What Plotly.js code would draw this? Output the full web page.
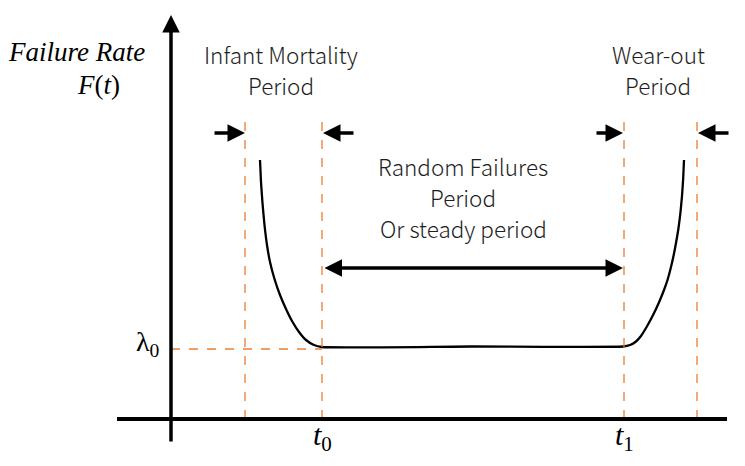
<!DOCTYPE html>
<html>
<head>
<meta charset="utf-8">
<script src="https://cdn.plot.ly/plotly-3.0.1.min.js"></script>
<style>html,body{margin:0;padding:0;background:#fff;}#chart{width:745px;height:466px;}</style>
</head>
<body>
<div id="chart"></div>
<script>
// Bathtub curve (time vs failure rate, arbitrary units)
var curveX = [89, 90, 91.5, 93.5, 96, 99, 103.5, 109, 115, 121, 128, 135, 143, 151,
              300,
              452, 459, 465, 470, 475, 480, 485, 489, 493, 496.5, 499.5, 502.5, 505, 507.5, 509.5, 511, 512.2, 513];
var curveY = [259, 237, 216, 194, 174, 157, 140, 124, 110, 98, 87, 79, 74, 72,
              72.5,
              72.5, 74, 77.5, 83, 91, 100, 110, 119, 129, 139, 150, 163, 176, 191, 207, 223, 241, 259];

var t0 = 151, t1 = 453;             // boundaries of steady period
var earlyStart = 74, wearEnd = 526; // outer boundaries
var lambda0 = 70;                   // steady failure rate
var boundaryTop = 297;
var arrowLevel = 286;               // level of boundary arrows
var spanLevel = 151;                // level of double arrow

var infantLines = ["Infant Mortality", "Period"];
var wearLines = ["Wear-out", "Period"];
var randomLines = ["Random Failures", "Period", "Or steady period"];
var yTitleLines = ["Failure Rate", "F", "t"];
var tickLabels = ["t", "t"];
var tickSubs = ["0", "1"];

var orange = "#ED7D31";
var sans = "Noto Sans CJK SC, Noto Sans, sans-serif";
var serif = "Liberation Serif, DejaVu Serif, serif";

var traces = [{
  x: curveX, y: curveY, mode: "lines", type: "scatter",
  line: {color: "#000", width: 2.3, shape: "spline", smoothing: 0.5},
  hoverinfo: "skip"
}];

var shapes = [];
[earlyStart, t0, t1, wearEnd].forEach(function (bx) {
  shapes.push({type: "line", xref: "x", yref: "y", x0: bx, x1: bx, y0: 0, y1: boundaryTop,
    line: {color: orange, width: 1.3, dash: "dash"}});
});
shapes.push({type: "line", xref: "x", yref: "y", x0: 0, x1: t0, y0: lambda0, y1: lambda0,
  line: {color: orange, width: 1.3, dash: "dash"}});
// x axis
shapes.push({type: "line", xref: "x", yref: "y", x0: -54, x1: 556, y0: 0, y1: 0,
  line: {color: "#000", width: 4}});

var ann = [];
function arrow(x, y, fromX, fromY, w, side) {
  ann.push({x: x, y: y, ax: fromX, ay: fromY, xref: "x", yref: "y", axref: "x", ayref: "y",
    showarrow: true, arrowhead: 2, arrowsize: 1, arrowwidth: w, arrowcolor: "#000",
    arrowside: side || "end", text: "", standoff: 0, startstandoff: 0});
}
// y axis with arrow
arrow(0, 404, 0, -24, 3.5);
// boundary arrows
arrow(earlyStart, arrowLevel, earlyStart - 32, arrowLevel, 3.5);
arrow(t0 + 1, arrowLevel, t0 + 33, arrowLevel, 3.5);
arrow(t1 - 1, arrowLevel, t1 - 29, arrowLevel, 3.5);
arrow(wearEnd + 1, arrowLevel, wearEnd + 33, arrowLevel, 3.5);
// span arrow
arrow(t1 - 1, spanLevel, t0 + 1, spanLevel, 3.5, "end+start");

function txt(x, y, s, font, xa) {
  ann.push({x: x, y: y, xref: "x", yref: "y", text: s, showarrow: false,
    xanchor: xa || "center", yanchor: "middle", font: font, borderpad: 0});
}
var sf = {family: sans, size: 22.5, color: "#1e1e1e", weight: 300};
function block(x, yTop, lines, gap) {
  lines.forEach(function (s, i) { txt(x, yTop - i * gap, s, sf); });
}
block(110, 365, infantLines, 31);
block(487, 365, wearLines, 31);
block(292, 253, randomLines, 31);

var serF = {family: serif, size: 27, color: "#000"};
txt(-25, 367, "<i>" + yTitleLines[0] + "</i>", serF, "right");
txt(-73, 334, "<i>" + yTitleLines[1] + "</i>(<i>" + yTitleLines[2] + "</i>)", serF);
txt(-23, 76, "λ<sub>0</sub>", {family: serif, size: 28, color: "#000"});
txt(t0, -18, "<i>" + tickLabels[0] + "</i><sub>" + tickSubs[0] + "</sub>", {family: serif, size: 30, color: "#000"});
txt(t1, -18, "<i>" + tickLabels[1] + "</i><sub>" + tickSubs[1] + "</sub>", {family: serif, size: 30, color: "#000"});

var layout = {
  width: 745, height: 466,
  margin: {l: 0, r: 0, t: 0, b: 0},
  paper_bgcolor: "#fff", plot_bgcolor: "#fff",
  showlegend: false,
  xaxis: {range: [-171, 574], visible: false, fixedrange: true},
  yaxis: {range: [-47, 419], visible: false, fixedrange: true},
  shapes: shapes,
  annotations: ann
};
Plotly.newPlot("chart", traces, layout, {displayModeBar: false, staticPlot: true});
</script>
</body>
</html>
